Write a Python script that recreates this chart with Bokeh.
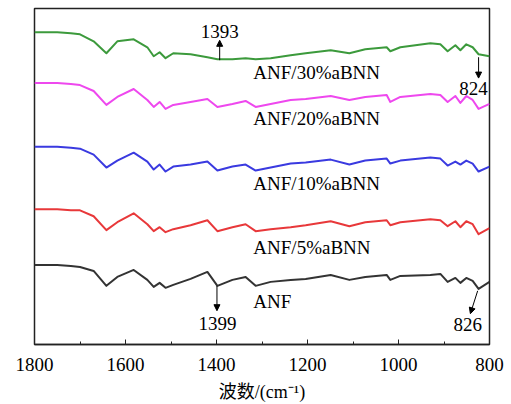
from bokeh.plotting import figure
from bokeh.models import Range1d, SingleIntervalTicker, Arrow, NormalHead
from bokeh.core.properties import value
from bokeh.embed import file_html
from bokeh.resources import INLINE

# wavenumber grid (cm^-1)
wavenumber = [1800, 1750, 1720, 1700, 1670, 1642, 1618, 1582, 1552, 1538, 1525, 1512, 1495,
              1457, 1420, 1398, 1365, 1336, 1314, 1281, 1237, 1204, 1149, 1108, 1073,
              1026, 1018, 996, 930, 908, 892, 875, 864, 851, 837, 824, 800]

# stacked transmittance (arbitrary units, offset per sample)
anf = [80, 80, 79, 78, 74, 59, 68, 75, 65, 58, 62, 57, 60, 66, 73, 59, 65, 68, 59, 63, 65,
       66, 70, 65, 68, 70, 65, 69, 70, 71, 63, 67, 62, 67, 64, 56, 63]
anf5 = [136, 136, 135, 135, 129, 115, 123, 132, 121, 114, 118, 113, 116, 120, 125, 114, 118,
        121, 114, 116, 118, 120, 124, 119, 123, 125, 120, 123, 126, 125, 119, 124, 118,
        124, 121, 111, 117]
anf10 = [199, 199, 198, 197, 191, 178, 185, 193, 184, 176, 181, 174, 179, 181, 184, 175, 179,
         181, 175, 178, 182, 183, 186, 181, 185, 187, 182, 185, 188, 187, 180, 184, 181,
         185, 182, 174, 179]
anf20 = [263, 263, 262, 261, 255, 241, 249, 257, 246, 239, 244, 237, 241, 244, 247, 239, 242,
         245, 239, 242, 246, 247, 250, 246, 249, 251, 244, 249, 252, 251, 244, 250, 243,
         250, 246, 237, 242]
anf30 = [314, 314, 313, 312, 305, 293, 305, 307, 299, 290, 294, 288, 293, 292, 289, 287, 287,
         288, 287, 288, 291, 293, 296, 293, 297, 299, 295, 299, 303, 302, 295, 301, 296,
         302, 299, 292, 290]

series_names = ["ANF", "ANF/5%aBNN", "ANF/10%aBNN", "ANF/20%aBNN", "ANF/30%aBNN"]
series_values = [anf, anf5, anf10, anf20, anf30]
series_colors = ["#333333", "#e8383a", "#3a3ae0", "#ee48ee", "#3c9a3c"]

SERIF = "Liberation Serif"

p = figure(width=511, height=404, output_backend="svg", toolbar_location=None,
           x_range=Range1d(1800, 800), y_range=Range1d(0, 338),
           min_border_left=34, min_border_right=22, min_border_top=8, min_border_bottom=58)

p.grid.visible = False
p.yaxis.visible = False
p.outline_line_color = "#222222"
p.outline_line_width = 1.5
p.outline_line_alpha = 1.0
p.background_fill_color = "white"
p.border_fill_color = "white"

ax = p.xaxis[0]
ax.ticker = SingleIntervalTicker(interval=200, num_minor_ticks=2)
ax.major_tick_in = 5
ax.major_tick_out = 0
ax.minor_tick_in = 3
ax.minor_tick_out = 0
ax.axis_line_width = 1.5
ax.axis_line_color = "#222222"
ax.major_tick_line_color = "#222222"
ax.minor_tick_line_color = "#222222"
ax.major_label_text_font = SERIF
ax.major_label_text_font_size = "19px"
ax.major_label_text_color = "black"
ax.major_label_standoff = 13
ax.axis_label = "波数/(cm⁻¹)"
ax.axis_label_text_font = "Liberation Serif, Noto Sans CJK SC"
ax.axis_label_text_font_size = "18px"
ax.axis_label_text_font_style = "normal"
ax.axis_label_text_color = "black"
ax.axis_label_standoff = 8

for name, vals, col in zip(series_names, series_values, series_colors):
    p.line(wavenumber, vals, line_color=col, line_width=2, line_join="round")

# curve labels
label_x = [1319, 1319, 1319, 1319, 1319]
label_y = [43, 98, 162, 227, 274]
p.text(x=label_x, y=label_y, text=series_names, text_font=value(SERIF),
       text_font_size="19px", text_baseline="middle", text_align="left", text_color="black")

# peak annotations
ann_text = ["1393", "824", "1399", "826"]
ann_x = [1393, 835, 1398, 848]
ann_y = [315, 258, 21, 20]
p.text(x=ann_x, y=ann_y, text=ann_text, text_font=value(SERIF), text_font_size="19px",
       text_baseline="middle", text_align="center", text_color="black")

arrows = [((1393, 286), (1393, 306)),
          ((824, 289), (824, 268)),
          ((1399, 59), (1399, 34)),
          ((826, 54), (842, 31))]
for (x0, y0), (x1, y1) in arrows:
    p.add_layout(Arrow(end=NormalHead(size=6, fill_color="black", line_color="black"),
                       x_start=x0, y_start=y0, x_end=x1, y_end=y1,
                       line_color="black", line_width=1))

open("out.html", "w").write(file_html(p, INLINE))
